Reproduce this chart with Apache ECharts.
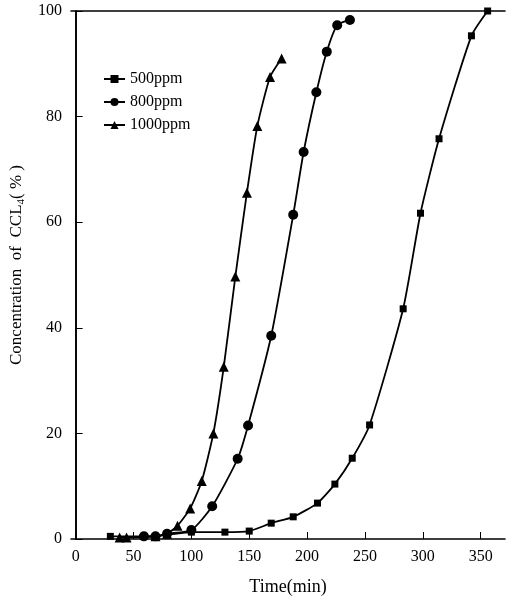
<!DOCTYPE html>
<html><head><meta charset="utf-8">
<script src="https://cdn.jsdelivr.net/npm/echarts@6/dist/echarts.min.js"></script>
<style>html,body{margin:0;padding:0;background:#fff}#c{width:507px;height:603px}</style>
</head><body><div id="c"></div>
<script>
var xTicks = [0, 50, 100, 150, 200, 250, 300, 350];
var yTicks = [0, 20, 40, 60, 80, 100];
var names = ['500ppm', '800ppm', '1000ppm'];
var s500 = [[30,0.5],[59,0.5],[79,0.8],[100,1.3],[129,1.3],[150,1.5],[169,3],[188,4.2],[209,6.8],[224,10.4],[239,15.3],[254,21.6],[283,43.6],[298,61.7],[314,75.8],[342,95.3],[356,100]];
var s800 = [[59,0.5],[69,0.5],[79,1],[100,1.7],[118,6.2],[140,15.2],[149,21.5],[169,38.5],[188,61.4],[197,73.3],[208,84.6],[217,92.3],[226,97.3],[237,98.3]];
var s1000 = [[38,0.3],[44,0.3],[69,0.5],[79,1],[88,2.5],[99,5.8],[109,11],[119,20],[128,32.6],[138,49.7],[148,65.6],[157,78.2],[168,87.5],[178,91]];

var font = 'Liberation Serif';
var chart = echarts.init(document.getElementById('c'));
function ser(name, data, sym, size) {
  return {name: name, type: 'line', data: data, symbol: sym, symbolSize: size, smooth: 0.2,
    lineStyle: {color: '#000', width: 1.8}, itemStyle: {color: '#000'}, z: 3};
}
chart.setOption({
  animation: false,
  grid: {left: 71, right: 2, top: 11, bottom: 64, containLabel: false},
  legend: {
    orient: 'vertical', left: 98, top: 66, itemGap: 7, itemWidth: 21, itemHeight: 10,
    textStyle: {fontFamily: font, fontSize: 16, color: '#000'},
    data: names
  },
  graphic: [{
    type: 'text', x: 17, y: 265, rotation: Math.PI / 2,
    style: {
      text: 'Concentration  of  CCL{s|4}( % )', fontFamily: font, fontSize: 17, fill: '#000',
      align: 'center', verticalAlign: 'middle',
      rich: {s: {fontFamily: font, fontSize: 11, fill: '#000', padding: [8, 0, 0, 0]}}
    }
  }],
  xAxis: [{
    type: 'value', min: -4, max: 371,
    name: 'Time(min)', nameLocation: 'middle', nameGap: 39,
    nameTextStyle: {fontFamily: font, fontSize: 18, color: '#000'},
    axisLine: {lineStyle: {color: '#000', width: 1.6}},
    axisTick: {inside: true, length: 7, customValues: xTicks, lineStyle: {color: '#000'}},
    axisLabel: {customValues: xTicks, margin: 10, fontFamily: font, fontSize: 16, color: '#000'},
    splitLine: {show: false}
  }, {
    type: 'value', position: 'top', min: -4, max: 371,
    axisLine: {show: true, onZero: false, lineStyle: {color: '#000', width: 1.6}},
    axisTick: {show: false}, axisLabel: {show: false}, splitLine: {show: false}
  }],
  yAxis: [{
    type: 'value', min: 0, max: 100, interval: 20,
    axisLine: {show: true, lineStyle: {color: '#000', width: 1.6}},
    axisTick: {inside: true, length: 7, lineStyle: {color: '#000'}},
    axisLabel: {margin: 9, fontFamily: font, fontSize: 16, color: '#000'},
    splitLine: {show: false}
  }, {
    type: 'value', position: 'right', min: 0, max: 100,
    axisLine: {show: true, lineStyle: {color: '#000', width: 1.6}},
    axisTick: {show: false}, axisLabel: {show: false}, splitLine: {show: false}
  }],
  series: [
    ser(names[0], s500, 'rect', 7),
    ser(names[1], s800, 'circle', 10),
    ser(names[2], s1000, 'triangle', 10)
  ]
});
</script></body></html>
